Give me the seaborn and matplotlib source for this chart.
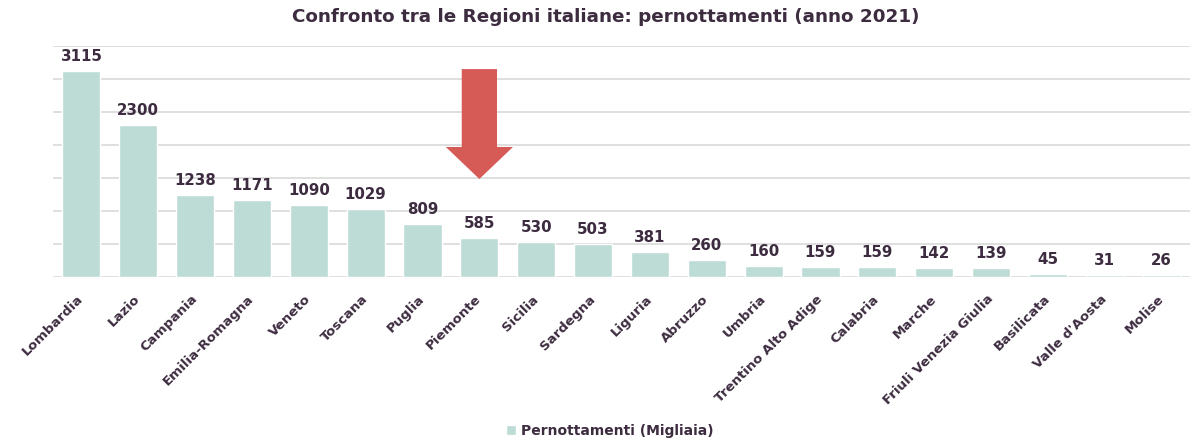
import matplotlib
matplotlib.use("Agg")
import matplotlib.pyplot as plt
import seaborn as sns
import pandas as pd

regions = ["Lombardia", "Lazio", "Campania", "Emilia-Romagna", "Veneto", "Toscana",
           "Puglia", "Piemonte", "Sicilia", "Sardegna", "Liguria", "Abruzzo", "Umbria",
           "Trentino Alto Adige", "Calabria", "Marche", "Friuli Venezia Giulia",
           "Basilicata", "Valle d'Aosta", "Molise"]
values = [3115, 2300, 1238, 1171, 1090, 1029, 809, 585, 530, 503, 381, 260, 160,
          159, 159, 142, 139, 45, 31, 26]
title = "Confronto tra le Regioni italiane: pernottamenti (anno 2021)"
series_name = "Pernottamenti (Migliaia)"
highlight = "Piemonte"

sns.set_theme(style="white")
plt.rcParams['font.family'] = ['DejaVu Sans']

TEXT = "#3d2c40"
BAR = "#bddcd6"
GRID = "#d9d9d9"
ARROW = "#d65a56"

df = pd.DataFrame({"Regione": regions, "Valore": values})

fig = plt.figure(figsize=(11.93, 4.46), dpi=100)
ax = fig.add_axes([53/1193, 1-277/446, (1190-53)/1193, (277-46)/446])

sns.barplot(data=df, x="Regione", y="Valore", color=BAR, width=0.67, ax=ax,
            label=series_name, saturation=1)

ax.set_ylim(0, 3500)
ax.set_yticks(range(0, 3501, 500))
ax.yaxis.grid(True, color=GRID, linewidth=1.2)
ax.set_axisbelow(True)
ax.tick_params(axis='y', left=False, labelleft=False)
ax.tick_params(axis='x', bottom=False, pad=8.5)
for s in ax.spines.values():
    s.set_visible(False)
ax.set_xlabel("")
ax.set_ylabel("")
ax.set_xlim(-0.5, len(regions) - 0.5)

for lab in ax.get_xticklabels():
    lab.set_rotation(45)
    lab.set_ha('right')
    lab.set_va('center')
    lab.set_rotation_mode('anchor')
    lab.set_fontsize(9.6)
    lab.set_fontweight('bold')
    lab.set_color(TEXT)

ax.bar_label(ax.containers[0], labels=[str(v) for v in values], padding=5,
             fontsize=10.8, fontweight='bold', color=TEXT)

# highlight arrow above Piemonte
xi = regions.index(highlight)
ax.arrow(xi, 3150, 0, -1665, width=0.62, head_width=1.18, head_length=485,
         length_includes_head=True, color=ARROW, linewidth=0, zorder=5)

fig.suptitle(title, x=606/1193, y=0.981, fontsize=13.2, fontweight='bold', color=TEXT)

h, l = ax.get_legend_handles_labels()
if ax.legend_:
    ax.legend_.remove()
leg = fig.legend(h, l, loc='center', bbox_to_anchor=(610/1193, 1-431/446), frameon=False,
                 handlelength=0.7, handleheight=0.7, handletextpad=0.4, fontsize=10)
for t in leg.get_texts():
    t.set_fontweight('bold')
    t.set_color(TEXT)

fig.savefig("out.png", dpi=100)
